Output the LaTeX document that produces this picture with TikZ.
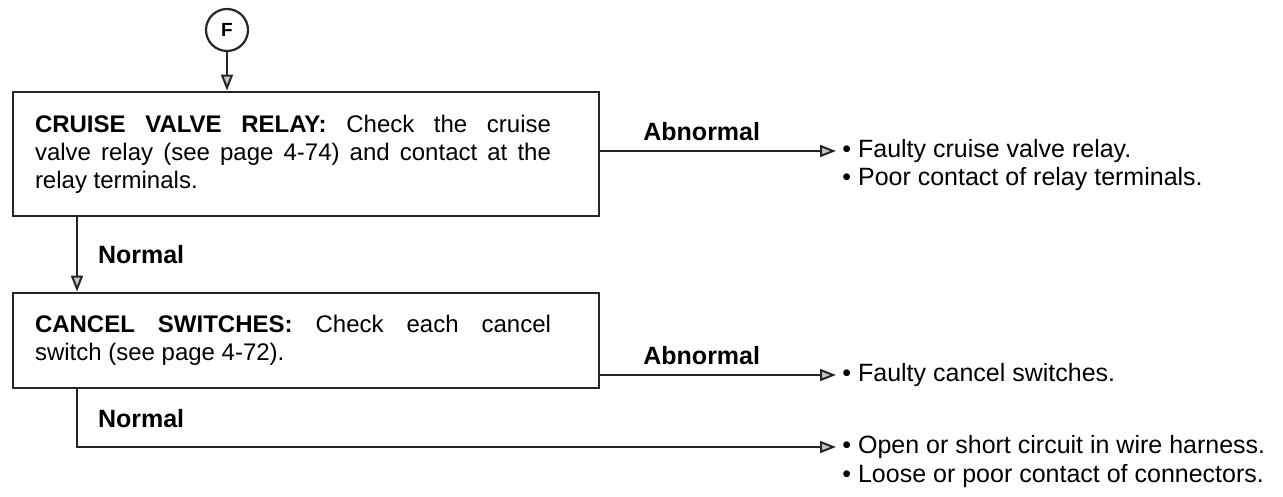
\documentclass[tikz,border=0pt]{standalone}
\usepackage{fontspec}
\setmainfont{Liberation Sans}
\usetikzlibrary{arrows.meta,positioning}
\definecolor{ink}{HTML}{262626}
% justified text block of a check box, kept to the left edge
\newcommand{\boxtext}[1]{\parbox{258pt}{\rightskip=0pt\parfillskip=0pt plus 1fil\relax
  #1}\hspace*{13pt}}
\tikzset{
  stepbox/.style={draw=ink, line width=1.4pt, minimum width=293pt, inner xsep=11pt,
    font=\fontsize{12}{14}\selectfont},
  flow/.style={draw=ink, line width=1pt, -{Triangle[length=8pt,width=6pt,fill=gray!45]}},
  branch/.style={font=\bfseries\fontsize{12.5}{14}\selectfont, inner sep=0pt},
  result/.style={anchor=west, inner sep=0pt, font=\fontsize{12.5}{14}\selectfont}
}
\begin{document}
\begin{tikzpicture}[x=0.5pt, y=-0.5pt]
  \useasboundingbox (0,0) rectangle (1283,497);
  % connector from the previous page
  \node[draw=ink, circle, line width=1.1pt, minimum size=21pt, inner sep=0pt,
    font=\bfseries\fontsize{9.5}{9.5}\selectfont] (F) at (227,30) {F};
  % check boxes
  \node[stepbox, minimum height=62pt] (relay) at (306,154)
    {\boxtext{\textbf{CRUISE VALVE RELAY:} Check the cruise\linebreak
      valve relay (see page \mbox{4-74)} and contact at the\linebreak
      relay terminals.}};
  \node[stepbox, minimum height=47.5pt] (cancel) at (306,340.5)
    {\boxtext{\textbf{CANCEL SWITCHES:} Check each cancel\linebreak
      switch (see page \mbox{4-72).}}};
  \draw[flow] (F) -- (F |- relay.north);
  % normal path
  \coordinate (nx) at (77,0);
  \draw[flow] (relay.south -| nx) -- (cancel.north -| nx)
    node[branch, midway, right=10pt] (n1) {Normal};
  \coordinate (tip1) at (836,151);
  \coordinate (tip2) at (836,375);
  \coordinate (tip3) at (836,447);
  \draw[flow] (cancel.south -| nx) |- (tip3)
    node[branch, pos=0.25, right=10pt] (n2) {Normal};
  % abnormal results
  \draw[flow] (relay.east |- tip1) -- (tip1)
    node[branch, pos=0.43, above=4.5pt] (a1) {Abnormal};
  \draw[flow] (cancel.east |- tip2) -- (tip2)
    node[branch, pos=0.43, above=4.5pt] (a2) {Abnormal};
  \node[result] (r1) at ([xshift=3pt]tip1)
    {\textbullet\ Faulty cruise valve relay.};
  \node[result] (r1b) at ([yshift=-14pt]r1.west)
    {\textbullet\ Poor contact of relay terminals.};
  \node[result] (r2) at ([xshift=3pt]tip2)
    {\textbullet\ Faulty cancel switches.};
  \node[result] (r3) at ([xshift=3pt]tip3)
    {\textbullet\ Open or short circuit in wire harness.};
  \node[result] (r3b) at ([yshift=-14.5pt]r3.west)
    {\textbullet\ Loose or poor contact of connectors.};
\end{tikzpicture}
\end{document}
